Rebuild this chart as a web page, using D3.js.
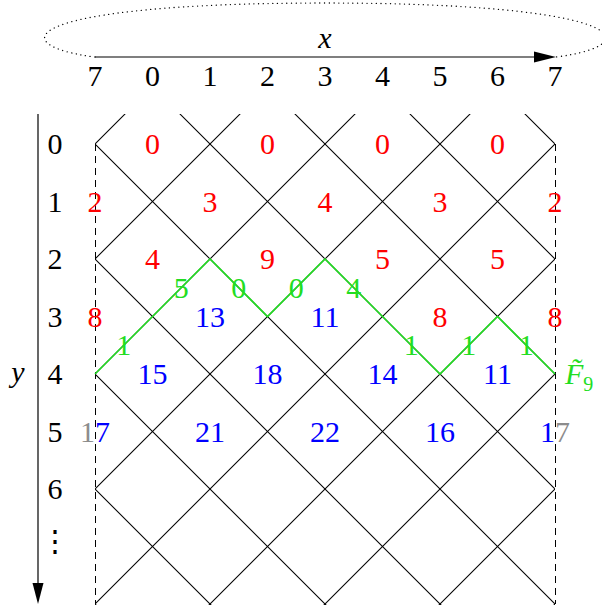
<!DOCTYPE html>
<html>
<head>
<meta charset="utf-8">
<script src="https://cdn.jsdelivr.net/npm/d3@7"></script>
<style>
  body { margin: 0; background: #fff; }
  text { font-family: "Liberation Serif", serif; }
</style>
</head>
<body>
<div id="chart"></div>
<script>
// tick labels
var xTicks = ['7', '0', '1', '2', '3', '4', '5', '6', '7'];
var yTicks = ['0', '1', '2', '3', '4', '5', '6', '\u22EE'];

// cell values per row (row r sits at lattice columns i with r+i odd)
var cellValues = [
  [0, 0, 0, 0],
  [2, 3, 4, 3, 2],
  [4, 9, 5, 5],
  [8, 13, 11, 8, 8],
  [15, 18, 14, 11],
  [17, 21, 22, 16, 17]
];
// f = given (red), c = computed (blue)
var cellKinds = [
  ['f', 'f', 'f', 'f'],
  ['f', 'f', 'f', 'f', 'f'],
  ['f', 'f', 'f', 'f'],
  ['f', 'c', 'c', 'f', 'f'],
  ['c', 'c', 'c', 'c'],
  ['c', 'c', 'c', 'c', 'c']
];

// green path: row at each lattice column, and edge weights
var pathRows = [4, 3, 2, 3, 2, 3, 4, 3, 4];
var edgeWeights = [1, 5, 0, 0, 4, 1, 1, 1];
var pathLabel = 'F\u0303';
var pathSub = '9';

var W = 602, H = 607;
var fs = 30;
var dy = 10;
var red = '#ff0000', blue = '#0000ff', green = '#22dd22', gray = '#8c8c8c';

var svg = d3.select('#chart').append('svg')
  .attr('width', W)
  .attr('height', H);

var x = d3.scaleLinear().domain([0, 8]).range([95, 555]);
var y = d3.scaleLinear().domain([0, 8]).range([144, 604]);

var defs = svg.append('defs');
defs.append('clipPath').attr('id', 'latticeClip')
  .append('rect')
  .attr('x', x(0)).attr('y', 114)
  .attr('width', x(8) - x(0)).attr('height', y(8) - 114 + 1);
defs.append('clipPath').attr('id', 'inside')
  .append('rect')
  .attr('x', x(0)).attr('y', 0)
  .attr('width', x(8) - x(0)).attr('height', H);
var outside = defs.append('clipPath').attr('id', 'outside');
outside.append('rect').attr('x', 0).attr('y', 0).attr('width', x(0)).attr('height', H);
outside.append('rect').attr('x', x(8)).attr('y', 0).attr('width', W - x(8)).attr('height', H);

// ---- top dotted loop + x axis arrow
svg.append('path')
  .attr('d', 'M' + x(0) + ',57 C 0,45 20,3 325,3 C 630,3 650,45 ' + (x(8) + 1) + ',57')
  .attr('fill', 'none')
  .attr('stroke', '#000')
  .attr('stroke-width', 1.3)
  .attr('stroke-linecap', 'round')
  .attr('stroke-dasharray', '0.1 4.6');

svg.append('line')
  .attr('x1', x(0)).attr('x2', x(8) - 18)
  .attr('y1', 57).attr('y2', 57)
  .attr('stroke', '#000').attr('stroke-width', 1.2);
svg.append('path')
  .attr('d', 'M' + (x(8) + 1) + ',57 L' + (x(8) - 21) + ',51.5 L' + (x(8) - 21) + ',62.5 Z')
  .attr('fill', '#000');

svg.append('text')
  .attr('x', 325).attr('y', 48)
  .attr('text-anchor', 'middle')
  .attr('font-style', 'italic')
  .attr('font-size', fs)
  .text('x');

svg.selectAll('.xtick')
  .data(xTicks)
  .enter().append('text')
  .attr('class', 'xtick')
  .attr('x', function(d, i) { return x(i); })
  .attr('y', 86)
  .attr('text-anchor', 'middle')
  .attr('font-size', fs)
  .text(function(d) { return d; });

// ---- y axis arrow
svg.append('line')
  .attr('x1', 38).attr('x2', 38)
  .attr('y1', 114).attr('y2', y(8) - 18)
  .attr('stroke', '#000').attr('stroke-width', 1.2);
svg.append('path')
  .attr('d', 'M38,' + y(8) + ' L32.5,' + (y(8) - 21) + ' L43.5,' + (y(8) - 21) + ' Z')
  .attr('fill', '#000');

svg.append('text')
  .attr('x', 18).attr('y', y(4) + 8)
  .attr('text-anchor', 'middle')
  .attr('font-style', 'italic')
  .attr('font-size', fs)
  .text('y');

svg.selectAll('.ytick')
  .data(yTicks)
  .enter().append('text')
  .attr('class', 'ytick')
  .attr('x', 55)
  .attr('y', function(d, i) { return y(i) + dy - (i === 7 ? 6 : 0); })
  .attr('text-anchor', 'middle')
  .attr('font-size', fs)
  .text(function(d) { return d; });

// ---- lattice
var lattice = svg.append('g').attr('clip-path', 'url(#latticeClip)');
var diag = [];
for (var k = -10; k <= 10; k += 2) diag.push({ a: [k - 1, -1], b: [k + 10, 10] });
for (var k2 = 0; k2 <= 18; k2 += 2) diag.push({ a: [k2 + 1, -1], b: [k2 - 10, 10] });
lattice.selectAll('.diag')
  .data(diag)
  .enter().append('line')
  .attr('class', 'diag')
  .attr('x1', function(d) { return x(d.a[0]); })
  .attr('y1', function(d) { return y(d.a[1]); })
  .attr('x2', function(d) { return x(d.b[0]); })
  .attr('y2', function(d) { return y(d.b[1]); })
  .attr('stroke', '#000')
  .attr('stroke-width', 1.1);

svg.selectAll('.edge')
  .data([0, 8])
  .enter().append('line')
  .attr('class', 'edge')
  .attr('x1', function(d) { return x(d) + 0.5; })
  .attr('x2', function(d) { return x(d) + 0.5; })
  .attr('y1', y(0)).attr('y2', y(8))
  .attr('stroke', '#000')
  .attr('stroke-width', 1.2)
  .attr('shape-rendering', 'crispEdges')
  .attr('stroke-dasharray', '7 5');

// ---- green path
var line = d3.line()
  .x(function(d, i) { return x(i); })
  .y(function(d) { return y(d); });
svg.append('path')
  .datum(pathRows)
  .attr('d', line)
  .attr('fill', 'none')
  .attr('stroke', green)
  .attr('stroke-width', 1.6);

// ---- cell numbers
var cells = [];
cellValues.forEach(function(row, r) {
  var start = (r % 2 === 0) ? 1 : 0;
  row.forEach(function(v, j) {
    cells.push({ r: r, i: start + 2 * j, v: v, kind: cellKinds[r][j] });
  });
});

var numG = svg.append('g');
cells.forEach(function(c) {
  var edge = (c.i === 0 || c.i === 8);
  var col = c.kind === 'f' ? red : blue;
  if (c.kind === 'c' && edge) {
    numG.append('text')
      .attr('x', x(c.i)).attr('y', y(c.r) + dy)
      .attr('text-anchor', 'middle').attr('font-size', fs)
      .attr('fill', col).attr('clip-path', 'url(#inside)')
      .text(c.v);
    numG.append('text')
      .attr('x', x(c.i)).attr('y', y(c.r) + dy)
      .attr('text-anchor', 'middle').attr('font-size', fs)
      .attr('fill', gray).attr('clip-path', 'url(#outside)')
      .text(c.v);
  } else {
    numG.append('text')
      .attr('x', x(c.i)).attr('y', y(c.r) + dy)
      .attr('text-anchor', 'middle').attr('font-size', fs)
      .attr('fill', col)
      .text(c.v);
  }
});

// ---- edge weights on the green path
svg.selectAll('.w')
  .data(edgeWeights)
  .enter().append('text')
  .attr('class', 'w')
  .attr('x', function(d, i) { return x(i + 0.5); })
  .attr('y', function(d, i) { return y((pathRows[i] + pathRows[i + 1]) / 2) + dy; })
  .attr('text-anchor', 'middle')
  .attr('font-size', fs)
  .attr('fill', green)
  .text(function(d) { return d; });

// ---- F~_9 label
var endY = y(pathRows[pathRows.length - 1]);
var lab = svg.append('text')
  .attr('x', 565).attr('y', endY + dy)
  .attr('font-size', fs)
  .attr('fill', green);
lab.append('tspan')
  .attr('font-style', 'italic')
  .text(pathLabel);
lab.append('tspan')
  .attr('font-size', 20)
  .attr('dy', 7)
  .text(pathSub);
</script>
</body>
</html>
